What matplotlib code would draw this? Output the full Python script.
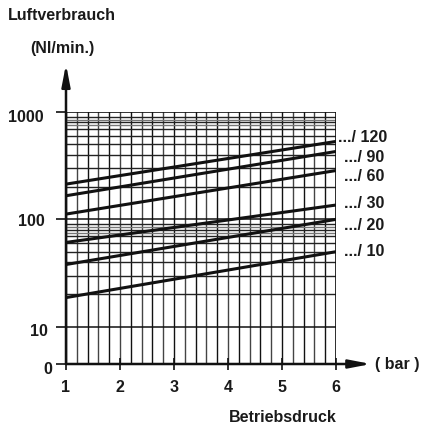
import matplotlib
matplotlib.use("Agg")
import matplotlib.pyplot as plt

plt.rcParams['font.family'] = ['Liberation Sans', 'DejaVu Sans']
plt.rcParams['font.weight'] = 'bold'

W, H = 422, 428

# data: consumption (Nl/min) at 1 bar and 6 bar
pressure = [1, 6]
series_labels = ['.../ 120', '.../ 90', '.../ 60', '.../ 30', '.../ 20', '.../ 10']
consumption = [
    [213, 532],
    [166, 429],
    [112, 285],
    [61, 136],
    [38, 100],
    [18.7, 50],
]
label_y = [137, 157, 177, 204, 225, 252]
label_x = [338, 344, 344, 344, 344, 344]

x_ticks = [1, 2, 3, 4, 5, 6]
y_tick_vals = [4.5, 10, 100, 1000]
y_tick_text = ['0', '10', '100', '1000']

dark_h = [20, 30, 40, 50, 60, 70, 80, 90, 200, 300, 400, 500, 600, 700, 800, 900]
gray_h = [75, 85, 750, 850]

Y_MIN, Y_MAX = 4.5, 1000


def fx(px):
    return px / W


def fy(py):
    return 1 - py / H


fig = plt.figure(figsize=(W / 100, H / 100), dpi=100)
ax = fig.add_axes([fx(66), fy(364), fx(336) - fx(66), fy(112) - fy(364)])
ax.set_yscale('log')
ax.set_xlim(1, 6)
ax.set_ylim(Y_MIN, Y_MAX)
for s in ax.spines.values():
    s.set_visible(False)

# grid
for i in range(26):
    xv = 1 + i * 0.2
    ax.axvline(xv, color='#111' if i % 2 == 0 else '#444', lw=1.0, zorder=1)
for v in dark_h:
    ax.axhline(v, color='#222', lw=1.0, zorder=1)
for v in gray_h:
    ax.axhline(v, color='#777', lw=1.0, zorder=1)
ax.axhline(10, color='#111', lw=1.1, zorder=1)
ax.axhline(100, color='#111', lw=1.1, zorder=1)
ax.axhline(1000, color='#111', lw=1.2, zorder=1)
ax.axvline(6, color='#111', lw=1.2, zorder=1)

# consumption lines
for vals in consumption:
    ax.plot(pressure, vals, color='#111', lw=2.2, solid_capstyle='butt', zorder=3)

# ticks
ax.set_xticks(x_ticks)
ax.set_xticklabels([])
ax.set_yticks(y_tick_vals)
ax.set_yticklabels([])
ax.minorticks_off()
ax.tick_params(axis='y', length=7, width=1.2, direction='out', color='#111')
ax.tick_params(axis='x', length=9, width=1.2, direction='inout', color='#111')

# axes with arrows
ax.annotate('', xy=(0, 1.19), xytext=(0, 0), xycoords='axes fraction',
            arrowprops=dict(arrowstyle='-|>,head_length=1.3,head_width=0.25',
                            lw=1.8, color='#111', mutation_scale=10,
                            shrinkA=0, shrinkB=0), annotation_clip=False)
ax.annotate('', xy=(1.13, 0), xytext=(0, 0), xycoords='axes fraction',
            arrowprops=dict(arrowstyle='-|>,head_length=1.3,head_width=0.25',
                            lw=1.8, color='#111', mutation_scale=10,
                            shrinkA=0, shrinkB=0), annotation_clip=False)

fs = 11.5
kw = dict(fontsize=fs, fontweight='bold', color='#1a1a1a')

fig.text(fx(8), fy(16), 'Luftverbrauch', ha='left', va='center', **kw)
fig.text(fx(30), fy(48), '(Nl/min.)', ha='left', va='center', **kw)
fig.text(fx(375), fy(364), '( bar )', ha='left', va='center', **kw)
fig.text(fx(229), fy(417), 'Betriebsdruck', ha='left', va='center', **kw)

ytxt_pos = {'0': (52, 370), '10': (48, 332), '100': (45, 222), '1000': (44, 117)}
for t in y_tick_text:
    px, py = ytxt_pos[t]
    fig.text(fx(px), fy(py), t, ha='right', va='center', **kw)

for xv in x_ticks:
    px = 66 + (xv - 1) * 54
    fig.text(fx(px), fy(388), str(xv), ha='center', va='center', **kw)

for lab, lx, ly in zip(series_labels, label_x, label_y):
    fig.text(fx(lx), fy(ly), lab, ha='left', va='center', **kw)

fig.savefig('out.png', dpi=100)
